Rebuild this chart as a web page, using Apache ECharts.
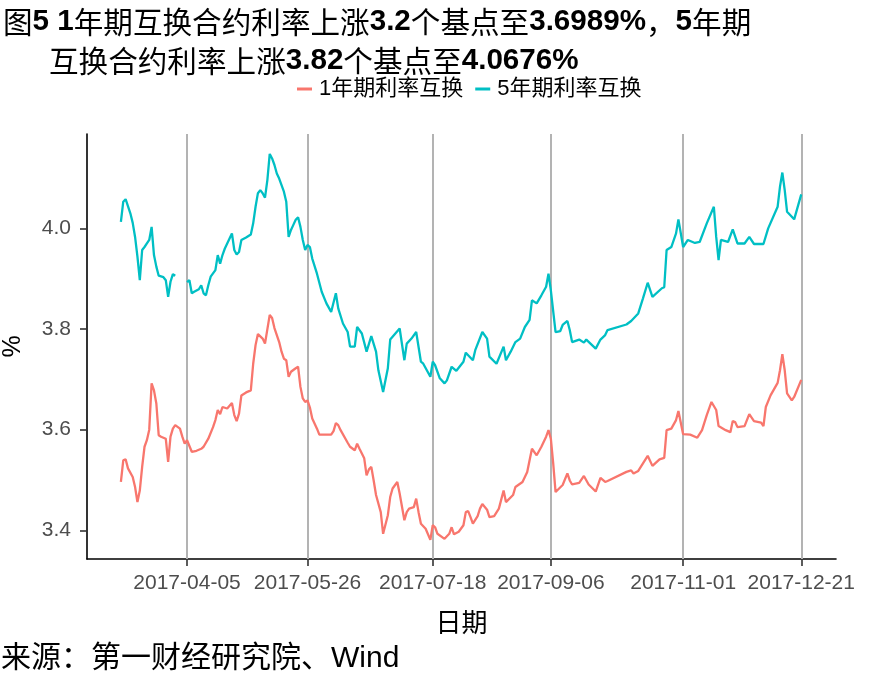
<!DOCTYPE html>
<html>
<head>
<meta charset="utf-8">
<script src="https://cdn.jsdelivr.net/npm/echarts@6/dist/echarts.min.js"></script>
<style>html,body{margin:0;padding:0;background:#fff}#c{width:885px;height:688px}</style>
</head>
<body>
<div id="c"></div>
<script>
// 1年期利率互换 [date, %]
const swap1Y = [
['2017-03-08',3.496],['2017-03-09',3.539],['2017-03-10',3.541],['2017-03-11',3.523],['2017-03-13',3.506],
['2017-03-14',3.486],['2017-03-15',3.456],['2017-03-16',3.479],['2017-03-17',3.526],['2017-03-18',3.566],
['2017-03-19',3.579],['2017-03-20',3.600],['2017-03-21',3.692],['2017-03-22',3.678],['2017-03-23',3.652],
['2017-03-24',3.589],['2017-03-25',3.586],['2017-03-27',3.582],['2017-03-28',3.536],['2017-03-29',3.586],
['2017-03-30',3.602],['2017-03-31',3.609],['2017-04-02',3.602],['2017-04-03',3.586],['2017-04-04',3.572],
['2017-04-05',3.579],['2017-04-07',3.556],['2017-04-09',3.558],['2017-04-11',3.562],['2017-04-12',3.566],
['2017-04-14',3.582],['2017-04-16',3.605],['2017-04-17',3.619],['2017-04-18',3.639],['2017-04-19',3.631],
['2017-04-20',3.645],['2017-04-22',3.642],['2017-04-24',3.653],['2017-04-25',3.629],['2017-04-26',3.617],
['2017-04-27',3.632],['2017-04-28',3.668],['2017-04-30',3.674],['2017-05-02',3.678],['2017-05-03',3.731],
['2017-05-04',3.768],['2017-05-05',3.790],['2017-05-07',3.781],['2017-05-08',3.771],['2017-05-10',3.828],
['2017-05-11',3.822],['2017-05-12',3.802],['2017-05-14',3.774],['2017-05-15',3.755],['2017-05-16',3.741],
['2017-05-17',3.738],['2017-05-18',3.705],['2017-05-19',3.715],['2017-05-21',3.722],['2017-05-22',3.725],
['2017-05-23',3.685],['2017-05-24',3.662],['2017-05-25',3.655],['2017-05-26',3.658],['2017-05-27',3.644],
['2017-05-28',3.622],['2017-05-30',3.602],['2017-05-31',3.590],['2017-06-05',3.590],['2017-06-06',3.597],
['2017-06-07',3.613],['2017-06-08',3.609],['2017-06-09',3.599],['2017-06-12',3.574],['2017-06-13',3.566],
['2017-06-15',3.559],['2017-06-16',3.572],['2017-06-17',3.562],['2017-06-19',3.543],['2017-06-20',3.509],
['2017-06-21',3.521],['2017-06-22',3.526],['2017-06-23',3.499],['2017-06-24',3.470],['2017-06-26',3.436],
['2017-06-27',3.393],['2017-06-29',3.430],['2017-06-30',3.466],['2017-07-01',3.483],['2017-07-03',3.496],
['2017-07-04',3.473],['2017-07-06',3.420],['2017-07-07',3.436],['2017-07-08',3.443],['2017-07-10',3.446],
['2017-07-11',3.463],['2017-07-12',3.436],['2017-07-13',3.413],['2017-07-15',3.403],['2017-07-17',3.381],
['2017-07-18',3.410],['2017-07-19',3.406],['2017-07-20',3.393],['2017-07-23',3.383],['2017-07-25',3.393],
['2017-07-26',3.406],['2017-07-27',3.392],['2017-07-29',3.397],['2017-07-31',3.410],['2017-08-01',3.436],
['2017-08-02',3.438],['2017-08-03',3.426],['2017-08-04',3.413],['2017-08-06',3.428],['2017-08-07',3.443],
['2017-08-08',3.452],['2017-08-10',3.441],['2017-08-11',3.426],['2017-08-13',3.428],['2017-08-15',3.443],
['2017-08-17',3.479],['2017-08-18',3.456],['2017-08-21',3.470],['2017-08-22',3.486],['2017-08-25',3.496],
['2017-08-27',3.516],['2017-08-28',3.539],['2017-08-29',3.562],['2017-08-31',3.549],['2017-09-02',3.566],
['2017-09-04',3.586],['2017-09-05',3.599],['2017-09-06',3.582],['2017-09-07',3.533],['2017-09-08',3.476],
['2017-09-11',3.490],['2017-09-13',3.513],['2017-09-14',3.499],['2017-09-15',3.491],['2017-09-18',3.494],
['2017-09-20',3.508],['2017-09-22',3.491],['2017-09-25',3.477],['2017-09-27',3.504],['2017-09-29',3.496],
['2017-09-30',3.498],['2017-10-08',3.516],['2017-10-10',3.519],['2017-10-11',3.513],['2017-10-13',3.518],
['2017-10-15',3.533],['2017-10-17',3.548],['2017-10-19',3.528],['2017-10-22',3.541],['2017-10-24',3.544],
['2017-10-25',3.599],['2017-10-27',3.602],['2017-10-29',3.619],['2017-10-30',3.637],['2017-11-01',3.591],
['2017-11-04',3.590],['2017-11-07',3.584],['2017-11-09',3.599],['2017-11-11',3.629],['2017-11-13',3.655],
['2017-11-15',3.639],['2017-11-16',3.607],['2017-11-19',3.599],['2017-11-21',3.595],['2017-11-22',3.617],
['2017-11-23',3.615],['2017-11-24',3.605],['2017-11-27',3.607],['2017-11-29',3.631],['2017-12-01',3.617],
['2017-12-04',3.614],['2017-12-05',3.607],['2017-12-06',3.645],['2017-12-08',3.668],['2017-12-11',3.693],
['2017-12-12',3.718],['2017-12-13',3.750],['2017-12-14',3.718],['2017-12-15',3.672],['2017-12-17',3.658],
['2017-12-18',3.665],['2017-12-21',3.6989]
];
// 5年期利率互换 [date, %]  (null = missing)
const swap5Y = [
['2017-03-08',4.013],['2017-03-09',4.053],['2017-03-10',4.058],['2017-03-12',4.030],['2017-03-13',4.011],
['2017-03-14',3.983],['2017-03-15',3.944],['2017-03-16',3.897],['2017-03-17',3.957],['2017-03-18',3.963],
['2017-03-19',3.970],['2017-03-20',3.977],['2017-03-21',4.003],['2017-03-22',3.947],['2017-03-23',3.924],
['2017-03-24',3.906],['2017-03-26',3.903],['2017-03-27',3.897],['2017-03-28',3.864],['2017-03-29',3.894],
['2017-03-30',3.909],['2017-03-31',3.906],['2017-04-03',null],['2017-04-05',3.893],['2017-04-06',3.897],
['2017-04-07',3.871],['2017-04-08',3.874],['2017-04-10',3.879],['2017-04-11',3.887],['2017-04-12',3.871],
['2017-04-13',3.867],['2017-04-14',3.887],['2017-04-15',3.904],['2017-04-17',3.917],['2017-04-18',3.947],
['2017-04-19',3.930],['2017-04-20',3.947],['2017-04-21',3.960],['2017-04-22',3.970],['2017-04-23',3.980],
['2017-04-24',3.990],['2017-04-25',3.957],['2017-04-26',3.948],['2017-04-27',3.953],['2017-04-28',3.977],
['2017-04-30',3.982],['2017-05-02',3.988],['2017-05-03',4.010],['2017-05-04',4.043],['2017-05-05',4.070],
['2017-05-06',4.076],['2017-05-07',4.070],['2017-05-08',4.061],['2017-05-09',4.096],['2017-05-10',4.148],
['2017-05-11',4.139],['2017-05-12',4.126],['2017-05-13',4.109],['2017-05-14',4.099],['2017-05-15',4.086],
['2017-05-16',4.073],['2017-05-17',4.053],['2017-05-18',3.983],['2017-05-19',3.997],['2017-05-20',4.007],
['2017-05-21',4.017],['2017-05-22',4.022],['2017-05-23',4.003],['2017-05-24',3.977],['2017-05-25',3.957],
['2017-05-26',3.967],['2017-05-27',3.963],['2017-05-28',3.940],['2017-05-30',3.910],['2017-06-01',3.874],
['2017-06-03',3.851],['2017-06-05',3.834],['2017-06-07',3.871],['2017-06-08',3.841],['2017-06-10',3.811],
['2017-06-12',3.794],['2017-06-13',3.765],['2017-06-15',3.765],['2017-06-16',3.804],['2017-06-18',3.791],
['2017-06-20',3.755],['2017-06-22',3.786],['2017-06-24',3.755],['2017-06-25',3.718],['2017-06-27',3.675],
['2017-06-29',3.722],['2017-06-30',3.779],['2017-07-02',3.790],['2017-07-04',3.801],['2017-07-06',3.738],
['2017-07-07',3.771],['2017-07-09',3.781],['2017-07-11',3.794],['2017-07-13',3.735],['2017-07-14',3.731],
['2017-07-17',3.705],['2017-07-18',3.735],['2017-07-19',3.728],['2017-07-21',3.702],['2017-07-23',3.692],
['2017-07-24',3.698],['2017-07-26',3.725],['2017-07-28',3.717],['2017-07-31',3.735],['2017-08-01',3.753],
['2017-08-04',3.738],['2017-08-05',3.758],['2017-08-08',3.794],['2017-08-10',3.781],['2017-08-11',3.745],
['2017-08-14',3.731],['2017-08-17',3.765],['2017-08-18',3.738],['2017-08-20',3.755],['2017-08-22',3.774],
['2017-08-24',3.781],['2017-08-26',3.804],['2017-08-28',3.818],['2017-08-29',3.857],['2017-08-31',3.851],
['2017-09-02',3.867],['2017-09-04',3.884],['2017-09-05',3.910],['2017-09-06',3.877],['2017-09-08',3.794],
['2017-09-10',3.796],['2017-09-11',3.808],['2017-09-13',3.816],['2017-09-14',3.798],['2017-09-15',3.774],
['2017-09-18',3.779],['2017-09-20',3.773],['2017-09-21',3.779],['2017-09-25',3.761],['2017-09-27',3.779],
['2017-09-29',3.788],['2017-09-30',3.798],['2017-10-08',3.809],['2017-10-10',3.816],['2017-10-13',3.831],
['2017-10-15',3.861],['2017-10-17',3.892],['2017-10-19',3.864],['2017-10-23',3.881],['2017-10-24',3.883],
['2017-10-25',3.957],['2017-10-27',3.963],['2017-10-29',3.990],['2017-10-30',4.018],['2017-11-01',3.963],
['2017-11-03',3.977],['2017-11-06',3.971],['2017-11-08',3.973],['2017-11-11',4.010],['2017-11-14',4.043],
['2017-11-15',3.983],['2017-11-16',3.937],['2017-11-17',3.977],['2017-11-20',3.973],['2017-11-22',3.998],
['2017-11-24',3.970],['2017-11-27',3.970],['2017-11-29',3.983],['2017-12-01',3.969],['2017-12-05',3.969],
['2017-12-07',4.000],['2017-12-11',4.043],['2017-12-12',4.083],['2017-12-13',4.111],['2017-12-14',4.076],
['2017-12-15',4.033],['2017-12-18',4.018],['2017-12-21',4.0676]
];
const seriesNames = ['1年期利率互换', '5年期利率互换'];
const xTickDates = ['2017-04-05','2017-05-26','2017-07-18','2017-09-06','2017-11-01','2017-12-21'];
const yTicks = [3.4, 3.6, 3.8, 4.0];
const xRange = ['2017-02-21 15:36', '2018-01-04 17:00'];
const yRange = [3.3429, 4.1876];

const toTime = d => +echarts.time.parse(d);
const xTickVals = xTickDates.map(toTime);
const toPoints = arr => arr.map(([d, v]) => [toTime(d), v]);
const CJK = "'Noto Sans CJK SC'";
const LAT = "'Liberation Sans','Noto Sans CJK SC'";

const titleRich = {
  c: { fontFamily: CJK, fontSize: 29.6, fontWeight: 'normal', color: '#000' },
  n: { fontFamily: "'Liberation Sans'", fontSize: 29.6, fontWeight: 'bold', color: '#000' }
};

const chart = echarts.init(document.getElementById('c'), null, { renderer: 'canvas' });
chart.setOption({
  animation: false,
  backgroundColor: '#fff',
  title: [
    { text: '{c|图}{n|5 1}{c|年期互换合约利率上涨}{n|3.2}{c|个基点至}{n|3.6989%}{c|，}{n|5}{c|年期}',
      left: 3, top: 7, padding: 0, textStyle: { rich: titleRich } },
    { text: '{c|互换合约利率上涨}{n|3.82}{c|个基点至}{n|4.0676%}',
      left: 49, top: 46, padding: 0, textStyle: { rich: titleRich } },
    { text: '来源：第一财经研究院、Wind', left: 1, top: 644, padding: 0,
      textStyle: { fontFamily: LAT, fontSize: 30, fontWeight: 'normal', color: '#000' } }
  ],
  legend: {
    data: seriesNames,
    left: 297, top: 78, padding: 0,
    icon: 'rect', itemWidth: 15, itemHeight: 3, itemGap: 12,
    textStyle: { fontFamily: LAT, fontSize: 22, color: '#000', padding: [0, 0, 0, 2] }
  },
  grid: { left: 87, right: 49, top: 134, bottom: 129, containLabel: false, outerBoundsMode: 'none' },
  xAxis: {
    type: 'value', min: toTime(xRange[0]), max: toTime(xRange[1]),
    name: '日期', nameLocation: 'middle', nameGap: 50,
    nameTextStyle: { fontFamily: CJK, fontSize: 26, color: '#000' },
    axisLine: { show: true, onZero: false, lineStyle: { color: '#000', width: 1.6 } },
    axisTick: { show: true, customValues: xTickVals, length: 7, lineStyle: { color: '#333', width: 1.6 } },
    axisLabel: { customValues: xTickVals, margin: 14, fontFamily: LAT, fontSize: 21, color: '#4d4d4d',
      hideOverlap: false,
      formatter: v => echarts.time.format(v, '{yyyy}-{MM}-{dd}', false) },
    splitLine: { show: false }
  },
  yAxis: {
    type: 'value', min: yRange[0], max: yRange[1],
    name: '%', nameLocation: 'middle', nameGap: 61, nameRotate: 90,
    nameTextStyle: { fontFamily: LAT, fontSize: 25, color: '#000' },
    axisLine: { show: true, onZero: false, lineStyle: { color: '#000', width: 1.6 } },
    axisTick: { show: true, customValues: yTicks, length: 7, lineStyle: { color: '#333', width: 1.6 } },
    axisLabel: { customValues: yTicks, margin: 16, fontFamily: LAT, fontSize: 21, color: '#4d4d4d',
      formatter: v => v.toFixed(1) },
    splitLine: { show: false }
  },
  series: [
    { name: seriesNames[0], type: 'line', data: toPoints(swap1Y), showSymbol: false, symbol: 'none',
      lineStyle: { color: '#F8766D', width: 2.3 }, itemStyle: { color: '#F8766D' }, z: 3,
      markLine: { silent: true, z: 1, symbol: ['none', 'none'], label: { show: false },
        lineStyle: { color: '#b3b3b3', width: 2, type: 'solid' },
        emphasis: { disabled: true },
        data: xTickVals.map(t => ({ xAxis: t })) } },
    { name: seriesNames[1], type: 'line', data: toPoints(swap5Y), showSymbol: false, symbol: 'none', connectNulls: false,
      lineStyle: { color: '#00BFC4', width: 2.3 }, itemStyle: { color: '#00BFC4' }, z: 3 }
  ]
});
</script>
</body>
</html>
